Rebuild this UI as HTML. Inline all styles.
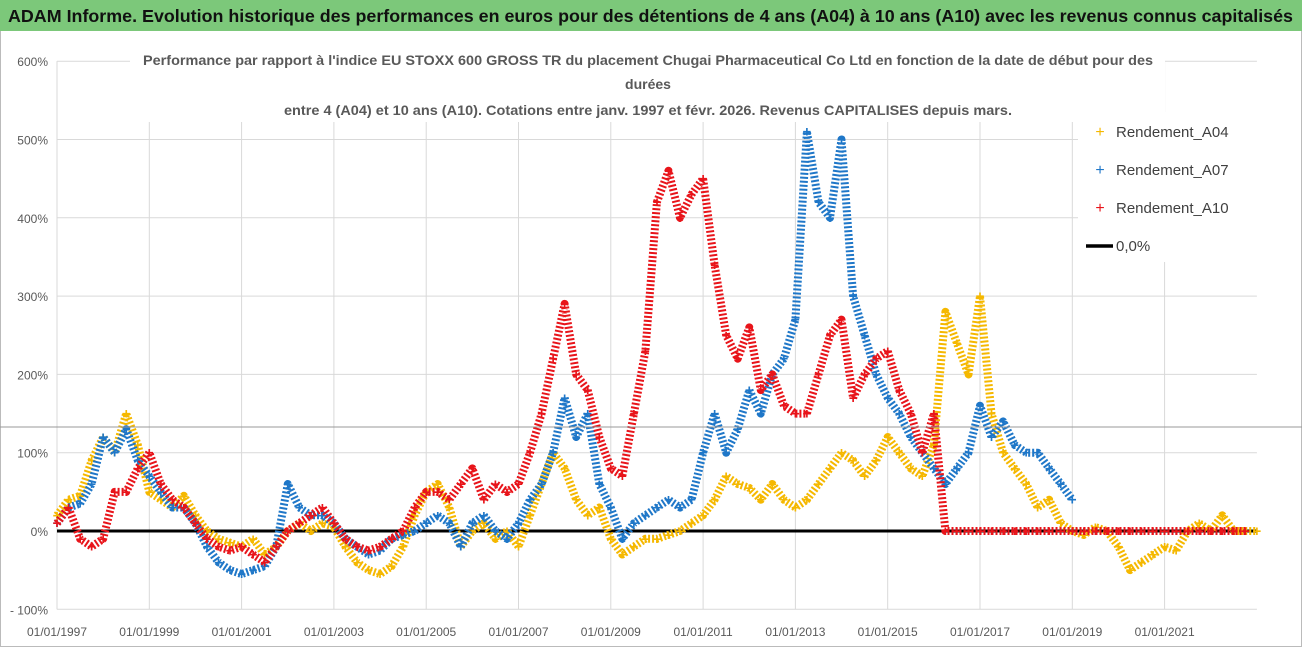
<!DOCTYPE html>
<html><head><meta charset="utf-8"><style>
body{margin:0;width:1302px;height:647px;overflow:hidden;background:#fff;font-family:"Liberation Sans",sans-serif}
</style></head><body>
<svg id="chart" width="1302" height="647" xmlns="http://www.w3.org/2000/svg">
<rect x="0.5" y="0.5" width="1301" height="646" fill="#fff" stroke="#bbb"/>
<rect x="0" y="0" width="1302" height="31" fill="#7cc87a"/>
<text x="8" y="22" font-size="17.5" font-weight="bold" fill="#111" textLength="1285" lengthAdjust="spacingAndGlyphs">ADAM Informe. Evolution historique des performances en euros pour des détentions de 4 ans (A04) à 10 ans (A10) avec les revenus connus capitalisés</text>
<g id="grid"></g>
<g id="axes"></g>
<g id="series"></g>
<rect x="130" y="44" width="1035" height="78" fill="#fff"/>
<g font-size="14" font-weight="bold" fill="#595959" text-anchor="middle">
<text x="648" y="65" textLength="1010" lengthAdjust="spacingAndGlyphs">Performance par rapport à l'indice EU STOXX 600 GROSS TR  du placement Chugai Pharmaceutical Co Ltd en fonction de la date de début pour des</text>
<text x="648" y="89">durées</text>
<text x="648" y="115" textLength="728" lengthAdjust="spacingAndGlyphs">entre 4 (A04) et 10 ans (A10). Cotations entre janv. 1997 et févr. 2026. Revenus CAPITALISES depuis mars.</text>
</g>
<line x1="0" y1="427" x2="1302" y2="427" stroke="#999" stroke-width="1"/>
<g>
<rect x="1078" y="112" width="222" height="150" fill="#fff"/>
<text x="1100" y="137" font-size="16" fill="#f5b800" text-anchor="middle">+</text>
<text x="1116" y="137" font-size="15" fill="#404040">Rendement_A04</text>
<text x="1100" y="175" font-size="16" fill="#1f77c8" text-anchor="middle">+</text>
<text x="1116" y="175" font-size="15" fill="#404040">Rendement_A07</text>
<text x="1100" y="213" font-size="16" fill="#e8141a" text-anchor="middle">+</text>
<text x="1116" y="213" font-size="15" fill="#404040">Rendement_A10</text>
<line x1="1086" y1="246" x2="1113" y2="246" stroke="#000" stroke-width="3.5"/>
<text x="1116" y="251" font-size="15" fill="#404040">0,0%</text>
</g>
</svg>
<script>
const startYear = 1997;
const stepYears = 0.25;
const yTicks = [-100, 0, 100, 200, 300, 400, 500, 600];
const yTickLabels = ["- 100%", "0%", "100%", "200%", "300%", "400%", "500%", "600%"];
const xTickYears = [1997, 1999, 2001, 2003, 2005, 2007, 2009, 2011, 2013, 2015, 2017, 2019, 2021];
const xTickLabels = ["01/01/1997","01/01/1999","01/01/2001","01/01/2003","01/01/2005","01/01/2007","01/01/2009","01/01/2011","01/01/2013","01/01/2015","01/01/2017","01/01/2019","01/01/2021"];
const a04 = [20,40,45,90,120,100,150,110,50,40,30,45,20,0,-10,-15,-20,-10,-30,-20,0,10,0,10,5,-20,-40,-50,-55,-45,-20,20,50,60,30,-20,0,10,-10,0,-20,20,60,100,80,40,20,30,-10,-30,-20,-10,-10,-5,0,10,20,40,70,60,55,40,60,40,30,40,60,80,100,90,70,90,120,100,80,70,110,280,240,200,300,150,100,80,60,30,40,10,0,-5,5,0,-20,-50,-40,-30,-20,-25,0,10,0,20,0,0,0];
const a07 = [10,30,35,60,120,100,130,90,70,50,30,30,10,-20,-40,-50,-55,-50,-45,-20,60,30,20,20,10,-10,-20,-30,-25,-10,-5,0,10,20,10,-20,10,20,0,-10,10,40,60,100,170,120,150,60,30,-10,10,20,30,40,30,40,100,150,100,130,180,150,200,220,270,510,420,400,500,300,250,200,170,150,120,100,80,60,80,100,160,120,140,110,100,100,80,60,40];
const a10 = [10,30,-10,-20,-10,50,50,80,100,60,40,30,10,-10,-20,-25,-20,-30,-40,-20,0,10,20,30,10,-10,-20,-25,-20,-10,0,30,50,50,40,60,80,40,60,50,60,100,150,220,290,200,180,120,80,70,150,230,420,460,400,430,450,340,250,220,260,180,200,160,150,150,200,250,270,170,200,220,230,180,150,100,150,0,0,0,0,0,0,0,0,0,0,0,0,0,0,0,0,0,0,0,0,0,0,0,0,0,0,0];

const NS = "http://www.w3.org/2000/svg";
const X0 = 57, XPX = 46.15;
const Y0 = 531, YPX = 0.783;
const xs = yr => X0 + (yr - 1997) * XPX;
const ys = v => Y0 - v * YPX;
const plotRight = xs(2023);
function mk(tag, attrs, parent){const e=document.createElementNS(NS,tag);for(const k in attrs)e.setAttribute(k,attrs[k]);parent.appendChild(e);return e;}
const grid=document.getElementById('grid'), axes=document.getElementById('axes'), ser=document.getElementById('series');
yTicks.forEach((t,i)=>{
  const l=mk('line',{x1:X0,x2:plotRight,y1:ys(t),y2:ys(t),stroke:'#d9d9d9','stroke-width':1},grid);
  
  
  const tx=mk('text',{x:48,y:ys(t)+5,'font-size':12,fill:'#595959','text-anchor':'end'},axes);
  tx.textContent=yTickLabels[i];
  
  
});
xTickYears.forEach((yr,i)=>{
  const l=mk('line',{x1:xs(yr),x2:xs(yr),y1:ys(600),y2:ys(-100),stroke:'#d9d9d9','stroke-width':1},grid);
  
  
  const tx=mk('text',{x:xs(yr),y:636,'font-size':12,fill:'#595959','text-anchor':'middle'},axes);
  tx.textContent=xTickLabels[i];
  
  
});
const zl=mk('line',{x1:X0,x2:plotRight,y1:ys(0),y2:ys(0),stroke:'#000','stroke-width':3},ser);


function drawSeries(arr,color,name){
  const g=mk('g',{},ser);
  
  
  const pts=arr.map((v,i)=>xs(startYear+i*stepYears).toFixed(1)+','+ys(v).toFixed(1)).join(' ');
  mk('polyline',{points:pts,fill:'none',stroke:color,'stroke-width':8,'stroke-linejoin':'round','stroke-dasharray':'2 2'},g);
  arr.forEach((v,i)=>{
    const t=mk('text',{x:xs(startYear+i*stepYears),y:ys(v)+5,'font-size':15,fill:color,'text-anchor':'middle','font-weight':'bold'},g);
    t.textContent='+';
    
    
  });
}
drawSeries(a04,'#f5b800','series-a04');
drawSeries(a07,'#1f77c8','series-a07');
drawSeries(a10,'#e8141a','series-a10');
mk('line',{x1:X0,x2:X0,y1:ys(600),y2:ys(-100),stroke:'#d9d9d9'},axes);
</script>
</body></html>
